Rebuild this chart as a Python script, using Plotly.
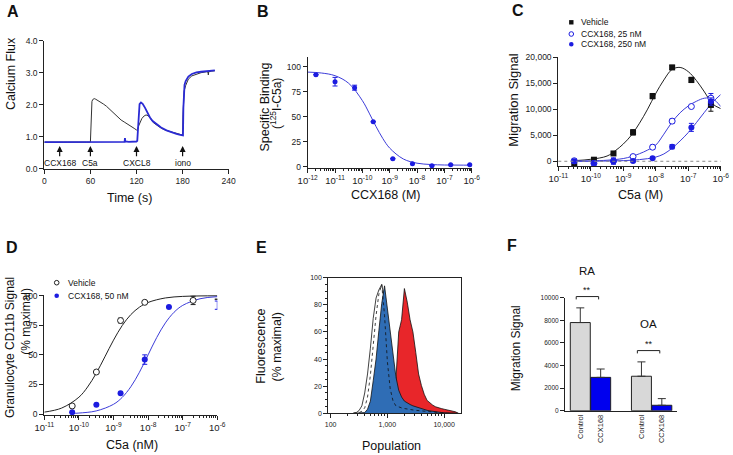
import plotly.graph_objects as go

FONT = "Liberation Sans, Arial, Helvetica, sans-serif"
W, H = 733, 455
BLUE_PT = "#1c1ce0"
BLUE_LN = "#3c3cd8"

######### A: calcium flux
a_t_vehicle = [0, 5, 10, 15, 20, 25, 30, 35, 40, 45, 50, 55, 60, 60.6, 61.2, 62, 63, 65, 67, 70,
               74, 77, 81, 85, 90, 94, 97, 100, 104, 107, 111, 114, 117, 120, 121.5, 123, 124.6, 127, 130, 132.4,
               135, 138, 141.9, 146, 150, 155, 160, 165, 170, 175, 180, 180.6, 181.2, 182, 184, 187.5, 192, 198, 204, 211,
               213, 213.5, 214, 218, 222]
a_flux_vehicle = [0.83, 0.84, 0.83, 0.83, 0.84, 0.83, 0.83, 0.84, 0.83, 0.83, 0.84, 0.83, 0.83, 1.3, 1.9, 2.1, 2.16, 2.19, 2.17, 2.13,
                  2.07, 2.02, 1.95, 1.86, 1.74, 1.63, 1.57, 1.52, 1.46, 1.42, 1.36, 1.31, 1.26, 1.21, 1.24, 1.35, 1.46, 1.57, 1.65, 1.68,
                  1.66, 1.58, 1.44, 1.36, 1.30, 1.23, 1.18, 1.15, 1.12, 1.09, 1.05, 1.7, 2.25, 2.43, 2.6, 2.8, 2.9, 2.96, 3.0, 3.03,
                  3.02, 2.93, 3.03, 3.05, 3.06]
a_t_ccx = [0, 10, 20, 30, 40, 50, 60, 70, 80, 90, 100, 104.5, 105, 105.5, 110, 115, 120, 121, 122, 123,
           124, 125.8, 128, 131, 134, 137.5, 141, 146, 152, 159, 165, 172, 177, 180.5, 181, 181.5, 182.5, 184, 187.5, 192,
           198, 204, 211, 216, 222]
a_flux_ccx = [0.83, 0.83, 0.84, 0.83, 0.83, 0.84, 0.83, 0.83, 0.84, 0.83, 0.84, 0.84, 0.96, 0.85, 0.84, 0.84, 0.85, 0.87, 1.35, 1.85,
              2.02, 2.07, 2.03, 1.91, 1.76, 1.6, 1.49, 1.39, 1.29, 1.2, 1.14, 1.09, 1.06, 1.04, 1.9, 2.45, 2.62, 2.74, 2.88, 2.96,
              3.01, 3.03, 3.05, 3.06, 3.07]
a_events = ["CCX168", "C5a", "CXCL8", "iono"]
a_event_t = [20, 60, 120, 180]

######### B: binding
b_conc = [2e-12, 1e-11, 5.2e-11, 2.5e-10, 1.3e-9, 6.8e-9, 3.5e-8, 1.7e-7, 8.5e-7]
b_bind = [92, 85, 79, 45, 8, 3, 1, 2, 2]
b_err = [0, 4.3, 2.5, 0, 0, 0, 0, 0, 0]
b_fit_log = [-12, -11.5, -11, -10.5, -10, -9.75, -9.5, -9.25, -9, -8.5, -8, -7.5, -7, -6.5, -6]
b_fit = [94.6, 93.7, 91.0, 83.4, 66.1, 53.6, 40.2, 28.1, 18.6, 7.7, 3.5, 2.2, 1.7, 1.6, 1.5]

######### C: migration
c_conc = [3.1e-11, 1.25e-10, 5e-10, 2e-9, 8e-9, 3.2e-8, 1.25e-7, 5e-7]
c_vehicle = [-500, 300, 1500, 5550, 12500, 18000, 15600, 10800]
c_vehicle_err = [300, 300, 200, 500, 500, 400, 500, 1200]
c_25 = [100, -400, 50, 900, 2700, 7700, 10500, 12100]
c_25_err = [400, 300, 600, 200, 400, 400, 200, 900]
c_250 = [0, -350, 0, 60, 600, 2800, 6500, 11450]
c_250_err = [300, 400, 500, 200, 200, 400, 770, 700]
c_fit_log = [-10.5, -10, -9.5, -9.25, -9, -8.75, -8.5, -8.25, -8, -7.75, -7.5, -7.25, -7, -6.75, -6.5, -6.25, -6]
c_fit_vehicle = [120, 380, 1000, 2000, 3300, 5000, 7300, 10000, 13000, 15600, 17600, 18000, 17200, 15500, 13300, 11000, 10100]
c_fit_25 = [0, 60, 200, 330, 520, 900, 1450, 2150, 3100, 5200, 7500, 9300, 10600, 11500, 12100, 12000, 10500]
c_fit_250 = [0, 20, 50, 80, 120, 200, 320, 500, 800, 1400, 2500, 3900, 5500, 7400, 9400, 11300, 12800]

######### D: CD11b
d_conc = [6.4e-11, 3.2e-10, 1.6e-9, 8e-9, 4e-8, 2e-7, 1e-6]
d_vehicle = [6.8, 35.5, 79, 94.4, None, 96, 97]
d_vehicle_err = [0, 0, 2, 0, 0, 3.5, 0]
d_ccx = [1.4, 7.9, 17.5, 46, 90.5, None, 92]
d_ccx_err = [0, 0, 0, 4, 0, 0, 3.5]
d_fit_log_v = [-11, -10.5, -10, -9.75, -9.5, -9.25, -9, -8.75, -8.5, -8.25, -8, -7.5, -7, -6.5, -6]
d_fit_v = [1.6, 5.0, 14.2, 22.8, 34.4, 48.3, 62.4, 74.7, 84.0, 90.3, 94.3, 98.1, 99.4, 99.8, 99.9]
d_fit_log_c = [-10.2, -10, -9.5, -9, -8.75, -8.5, -8.25, -8, -7.75, -7.5, -7.25, -7, -6.5, -6]
d_fit_c = [0.5, 0.8, 2.6, 8.2, 14.0, 23.0, 35.3, 50, 64.7, 77.0, 86.0, 91.8, 97.4, 99.2]

######### E: histograms
e_log = [2.40, 2.45, 2.50, 2.55, 2.60, 2.65, 2.70, 2.75, 2.80, 2.85, 2.90, 2.95, 3.00, 3.05, 3.10, 3.15, 3.20, 3.25, 3.30,
         3.35, 3.40, 3.45, 3.50, 3.55, 3.60, 3.65, 3.70, 3.75, 3.80, 3.85, 3.90, 3.95, 4.00, 4.05, 4.10, 4.15, 4.20, 4.25]
e_white = [0, 0.5, 2, 5.5, 15, 29, 48, 70, 85, 91, 95, 84, 62, 40, 22, 11, 6, 3.5, 2, 1.2, 0.6, 0.3,
           0, 0, 0, 0, 0, 0, 0, 0, 0, 0, 0, 0, 0, 0, 0, 0]
e_dotted = [0, 0, 0.5, 1.5, 4, 12, 28, 50, 72, 88, 95, 72, 38, 18, 9, 5.5, 4.5, 4, 3.5, 3, 2.8, 2.5, 2.2, 2, 1.6,
            1.3, 1, 0.8, 0.6, 0.4, 0.2, 0, 0, 0, 0, 0, 0, 0]
e_blue = [0, 0, 0, 0, 0.5, 3, 9, 24, 40, 61, 81, 94, 77, 59, 41, 27, 17, 12, 9, 7.5, 6.5, 5.5, 4.8, 4, 3.3,
          2.6, 2.2, 1.8, 1.4, 1.1, 0.8, 0.6, 0.4, 0.2, 0, 0, 0, 0]
e_red = [0, 0, 0, 0, 0, 0, 0, 0, 0, 0, 0, 0, 0, 0, 1, 25, 60, 69, 92, 82, 69, 60, 45, 29, 20.5,
         14, 9.5, 7.5, 6, 4.8, 4, 3.5, 3, 2.6, 2.2, 1.6, 1.1, 0]

######### F: synovial fluid migration
f_cats = ["RA Control", "RA CCX168", " ", "OA Control", "OA CCX168"]
f_labels = ["Control", "CCX168", "", "Control", "CCX168"]
f_control = [7800, 3050]
f_control_err = [1300, 1270]
f_ccx = [2950, 480]
f_ccx_err = [740, 590]
f_groups = ["RA", "OA"]
f_group_label_y = [12400, 7700]


def fx(p):
    return p / W


def fy(p):
    return 1 - p / H


def axis(domain, rng, anchor, **kw):
    d = dict(domain=domain, range=rng, anchor=anchor, showline=True, linecolor="#222", linewidth=1,
             ticks="outside", ticklen=4, tickwidth=1, tickcolor="#222", showgrid=False, zeroline=False,
             automargin=False, tickfont=dict(size=8.5, color="#222", family=FONT))
    d.update(kw)
    return d


def log_minor(lo, hi):
    vals = []
    for e in range(lo, hi):
        for m in range(2, 10):
            vals.append(m * 10.0 ** e)
    return vals


fig = go.Figure()

# A
fig.add_trace(go.Scatter(x=a_t_vehicle, y=a_flux_vehicle, mode="lines", line=dict(color="#333", width=1),
                         xaxis="x", yaxis="y"))
fig.add_trace(go.Scatter(x=a_t_ccx, y=a_flux_ccx, mode="lines", line=dict(color="#2a2ad4", width=1.8),
                         xaxis="x", yaxis="y"))

# B
fig.add_trace(go.Scatter(x=[10 ** v for v in b_fit_log], y=b_fit, mode="lines", line=dict(color=BLUE_LN, width=1, shape="spline"),
                         xaxis="x2", yaxis="y2"))
fig.add_trace(go.Scatter(x=b_conc, y=b_bind, mode="markers", marker=dict(color=BLUE_PT, size=5), cliponaxis=False,
                         error_y=dict(type="data", array=b_err, color=BLUE_PT, thickness=1, width=2.5),
                         xaxis="x2", yaxis="y2"))

# C
cx = [10 ** v for v in c_fit_log]
fig.add_trace(go.Scatter(x=cx, y=c_fit_vehicle, mode="lines", line=dict(color="#222", width=1, shape="spline"),
                         xaxis="x3", yaxis="y3"))
fig.add_trace(go.Scatter(x=cx, y=c_fit_25, mode="lines", line=dict(color=BLUE_LN, width=1, shape="spline"),
                         xaxis="x3", yaxis="y3"))
fig.add_trace(go.Scatter(x=cx, y=c_fit_250, mode="lines", line=dict(color=BLUE_LN, width=1, shape="spline"),
                         xaxis="x3", yaxis="y3"))
fig.add_trace(go.Scatter(x=c_conc, y=c_vehicle, mode="markers", marker=dict(color="#111", size=6, symbol="square"),
                         error_y=dict(type="data", array=c_vehicle_err, color="#111", thickness=1, width=2.5),
                         cliponaxis=False, xaxis="x3", yaxis="y3"))
fig.add_trace(go.Scatter(x=c_conc, y=c_25, mode="markers",
                         marker=dict(color="white", size=6, symbol="circle", line=dict(color=BLUE_PT, width=1)),
                         error_y=dict(type="data", array=c_25_err, color=BLUE_PT, thickness=1, width=2.5),
                         cliponaxis=False, xaxis="x3", yaxis="y3"))
fig.add_trace(go.Scatter(x=c_conc, y=c_250, mode="markers", marker=dict(color=BLUE_PT, size=6),
                         error_y=dict(type="data", array=c_250_err, color=BLUE_PT, thickness=1, width=2.5),
                         cliponaxis=False, xaxis="x3", yaxis="y3"))

# D
fig.add_trace(go.Scatter(x=[10 ** v for v in d_fit_log_v], y=d_fit_v, mode="lines",
                         line=dict(color="#222", width=1, shape="spline"), xaxis="x4", yaxis="y4"))
fig.add_trace(go.Scatter(x=[10 ** v for v in d_fit_log_c], y=d_fit_c, mode="lines",
                         line=dict(color=BLUE_LN, width=1, shape="spline"), xaxis="x4", yaxis="y4"))
fig.add_trace(go.Scatter(x=d_conc, y=d_ccx, mode="markers", marker=dict(color=BLUE_PT, size=6),
                         error_y=dict(type="data", array=d_ccx_err, color=BLUE_PT, thickness=1, width=2.5),
                         cliponaxis=False, xaxis="x4", yaxis="y4"))
fig.add_trace(go.Scatter(x=d_conc, y=d_vehicle, mode="markers",
                         marker=dict(color="white", size=6, line=dict(color="#222", width=1)),
                         error_y=dict(type="data", array=d_vehicle_err, color="#222", thickness=1, width=2.5),
                         cliponaxis=False, xaxis="x4", yaxis="y4"))

# E
ex = [10 ** v for v in e_log]
fig.add_trace(go.Scatter(x=ex, y=e_red, mode="lines", fill="tozeroy", fillcolor="#e8262a",
                         line=dict(color="#111", width=0.8), xaxis="x5", yaxis="y5"))
fig.add_trace(go.Scatter(x=ex, y=e_white, mode="lines", fill="tozeroy", fillcolor="white",
                         line=dict(color="#111", width=0.8), xaxis="x5", yaxis="y5"))
fig.add_trace(go.Scatter(x=ex, y=e_blue, mode="lines", fill="tozeroy", fillcolor="#2f6db5",
                         line=dict(color="#111", width=0.8), xaxis="x5", yaxis="y5"))
fig.add_trace(go.Scatter(x=ex, y=e_dotted, mode="lines", line=dict(color="#111", width=0.8, dash="dot"),
                         xaxis="x5", yaxis="y5"))

# F
fig.add_trace(go.Scatter(x=[" "], y=[0], mode="markers", marker=dict(opacity=0), hoverinfo="skip",
                         xaxis="x6", yaxis="y6"))
fig.add_trace(go.Bar(x=[g + " Control" for g in f_groups], y=f_control, width=0.98,
                     marker=dict(color="#d8d8d8", line=dict(color="#222", width=1)),
                     error_y=dict(type="data", symmetric=False, array=f_control_err, arrayminus=[0, 0],
                                  color="#333", thickness=1, width=4),
                     xaxis="x6", yaxis="y6"))
fig.add_trace(go.Bar(x=[g + " CCX168" for g in f_groups], y=f_ccx, width=0.98,
                     marker=dict(color="#0000ee", line=dict(color="#222", width=1)),
                     error_y=dict(type="data", symmetric=False, array=f_ccx_err, arrayminus=[0, 0],
                                  color="#333", thickness=1, width=4),
                     xaxis="x6", yaxis="y6"))

decades_b = [10.0 ** e for e in range(-12, -5)]
decades_c = [10.0 ** e for e in range(-11, -5)]
sup_b = ["10<sup>%d</sup>" % e for e in range(-12, -5)]
sup_c = ["10<sup>%d</sup>" % e for e in range(-11, -5)]
minor_small = dict(ticks="outside", ticklen=2, tickcolor="#222")
logfont = dict(size=9.5, color="#222", family=FONT)

# F axis placement (pixels), used for the brackets drawn above the axis top
F_X0, F_X1, F_RANGE = 565, 676.7, [-0.75, 4.73]
F_Y0, F_Y1, F_YMAX = 410.7, 297.7, 10000

fig.update_layout(
    template="none",
    width=W, height=H, margin=dict(l=0, r=0, t=0, b=0, pad=0), autosize=False,
    paper_bgcolor="white", plot_bgcolor="white", showlegend=False, barmode="overlay",
    font=dict(family=FONT, color="#111"),
    xaxis=axis([fx(44.3), fx(228.7)], [0, 240], "y", tickvals=[0, 60, 120, 180, 240]),
    yaxis=axis([fy(168.7), fy(40.7)], [0, 4], "x", tickvals=[0, 1, 2, 3, 4], tickformat=".1f"),
    xaxis2=axis([fx(307.7), fx(471.7)], [-12, -6], "y2", type="log", tickvals=decades_b, ticktext=sup_b,
                tickfont=logfont, minor=dict(tickvals=log_minor(-12, -6), **minor_small)),
    yaxis2=axis([fy(167.7), fy(56.7)], [-1, 110], "x2", tickvals=[0, 25, 50, 75, 100]),
    xaxis3=axis([fx(558.3), fx(720.7)], [-11, -6], "y3", type="log", tickvals=decades_c, ticktext=sup_c,
                tickfont=logfont, minor=dict(tickvals=log_minor(-11, -6), **minor_small)),
    yaxis3=axis([fy(165.7), fy(57)], [-850, 20000], "x3", tickvals=[0, 5000, 10000, 15000, 20000], tickformat=","),
    xaxis4=axis([fx(44.3), fx(217.3)], [-11, -6], "y4", type="log", tickvals=decades_c, ticktext=sup_c,
                tickfont=logfont, minor=dict(tickvals=log_minor(-11, -6), **minor_small)),
    yaxis4=axis([fy(414.6), fy(295.1)], [-0.5, 100.5], "x4", tickvals=[0, 25, 50, 75, 100]),
    xaxis5=axis([fx(328.3), fx(461)], [1.958, 4.298], "y5", type="log", mirror=True,
                tickvals=[100, 1000, 10000], ticktext=["100", "1,000", "10,000"],
                tickfont=dict(size=7, color="#222", family=FONT),
                minor=dict(tickvals=log_minor(2, 5) + [60, 70, 80, 90], **minor_small)),
    yaxis5=axis([fy(413.3), fy(277.7)], [0, 100], "x5", mirror=True, tickvals=[0, 20, 40, 60, 80, 100],
                tickfont=dict(size=7, color="#222", family=FONT), minor=dict(dtick=5, **minor_small)),
    xaxis6=axis([fx(F_X0), fx(F_X1)], F_RANGE, "y6", type="category", categoryorder="array",
                categoryarray=f_cats, tickvals=f_cats, ticktext=f_labels, tickangle=-90, ticks="",
                tickfont=dict(size=7.5, color="#222", family=FONT)),
    yaxis6=axis([fy(F_Y0), fy(F_Y1)], [0, F_YMAX], "x6", tickvals=[0, 2000, 4000, 6000, 8000, 10000],
                tickformat="d", tickfont=dict(size=6.5, color="#222", family=FONT)),
)

ann = []
shapes = []


def text(px, py, s, size=12, angle=0, anchor="center", bold=False):
    ann.append(dict(x=fx(px), y=fy(py), xref="paper", yref="paper", text=("<b>%s</b>" % s) if bold else s,
                    showarrow=False, textangle=angle, xanchor=anchor, yanchor="middle",
                    font=dict(size=size, family=FONT, color="#111")))


# panel letters
for letter, (lx, ly) in zip("ABCDEF", [(12.5, 11), (262.5, 11), (517.5, 10.5), (12, 247.5), (261.7, 247.5), (512, 245)]):
    text(lx, ly, letter, size=16, bold=True)

# axis titles
text(129.3, 198, "Time (s)", size=12.5)
text(11.7, 73.3, "Calcium Flux", size=12.5, angle=-90)
text(385.7, 195, "CCX168 (M)", size=12.5)
text(264, 107.5, "Specific Binding", size=12.5, angle=-90)
text(276.7, 103.3, "(<sup>125</sup>I-C5a)", size=12, angle=-90)
text(640, 195, "C5a (M)", size=12.5)
text(512.7, 100, "Migration Signal", size=13, angle=-90)
text(131.7, 445, "C5a (nM)", size=12.5)
text(9.3, 347.7, "Granulocyte CD11b Signal", angle=-90)
text(26, 321.7, "(% maximal)", angle=-90)
text(391.7, 445.7, "Population", size=12.5)
text(261, 346.7, "Fluorescence", size=12.5, angle=-90)
text(277.3, 347.3, "(% maximal)", size=12.5, angle=-90)
text(516, 348.3, "Migration Signal", angle=-90)

# A event arrows
for lab, t in zip(a_events, a_event_t):
    ann.append(dict(x=t, y=0.71, xref="x", yref="y", ax=t, ay=0.34, axref="x", ayref="y", text="",
                    showarrow=True, arrowhead=2, arrowsize=1, arrowwidth=1.2, arrowcolor="#111"))
    ann.append(dict(x=t, y=0.18, xref="x", yref="y", text=lab, showarrow=False,
                    font=dict(size=8.5, family=FONT, color="#111")))

# C legend
shapes.append(dict(type="rect", xref="paper", yref="paper", x0=fx(569.1), x1=fx(573.5), y0=fy(24.5), y1=fy(20.1),
                   fillcolor="#111", line=dict(width=0)))
shapes.append(dict(type="circle", xref="paper", yref="paper", x0=fx(569), x1=fx(573.6), y0=fy(36.3), y1=fy(31.7),
                   fillcolor="white", line=dict(color=BLUE_PT, width=1)))
shapes.append(dict(type="circle", xref="paper", yref="paper", x0=fx(569), x1=fx(573.6), y0=fy(46.6), y1=fy(42),
                   fillcolor=BLUE_PT, line=dict(width=0)))
for s, yy in zip(["Vehicle", "CCX168, 25 nM", "CCX168, 250 nM"], [22.3, 34, 44.3]):
    text(578.7, yy, s, size=8.5, anchor="left")
shapes.append(dict(type="line", xref="x3 domain", yref="y3", x0=0, x1=1, y0=0, y1=0,
                   line=dict(color="#888", width=1, dash="dot")))

# D legend
shapes.append(dict(type="circle", xref="paper", yref="paper", x0=fx(54.4), x1=fx(59), y0=fy(285), y1=fy(280.4),
                   fillcolor="white", line=dict(color="#222", width=1)))
shapes.append(dict(type="circle", xref="paper", yref="paper", x0=fx(54.4), x1=fx(59), y0=fy(298), y1=fy(293.4),
                   fillcolor=BLUE_PT, line=dict(width=0)))
text(65.7, 282.7, "Vehicle", size=8.5, anchor="left")
text(65.7, 295.7, "CCX168, 50 nM", size=8.5, anchor="left")


# F significance brackets and group labels (placed above the axis, so map to paper by hand)
def f_px(idx):
    return F_X0 + (idx - F_RANGE[0]) / (F_RANGE[1] - F_RANGE[0]) * (F_X1 - F_X0)


def f_py(v):
    return F_Y0 - v / F_YMAX * (F_Y0 - F_Y1)


for i, g in enumerate(f_groups):
    i0 = f_cats.index(g + " Control")
    i1 = f_cats.index(g + " CCX168")
    top = max(f_control[i] + f_control_err[i], f_ccx[i] + f_ccx_err[i]) + 1000
    x0, x1 = f_px(i0 - 0.2), f_px(i1 - 0.1)
    y_top, y_leg = f_py(top), f_py(top - 250)
    shapes.append(dict(type="path", xref="paper", yref="paper",
                       path="M %f,%f L %f,%f L %f,%f L %f,%f" % (fx(x0), fy(y_leg), fx(x0), fy(y_top),
                                                                fx(x1), fy(y_top), fx(x1), fy(y_leg)),
                       line=dict(color="#222", width=1)))
    text((x0 + x1) / 2, f_py(top + 550), "**", size=9)
    text((x0 + x1) / 2, f_py(f_group_label_y[i]), g, size=11.5)

fig.update_layout(annotations=ann, shapes=shapes)

# the page's default 8px body margin would push the figure off the window
fig.write_html("out.html", config={"displayModeBar": False},
               post_script="document.body.style.margin = '0';")
